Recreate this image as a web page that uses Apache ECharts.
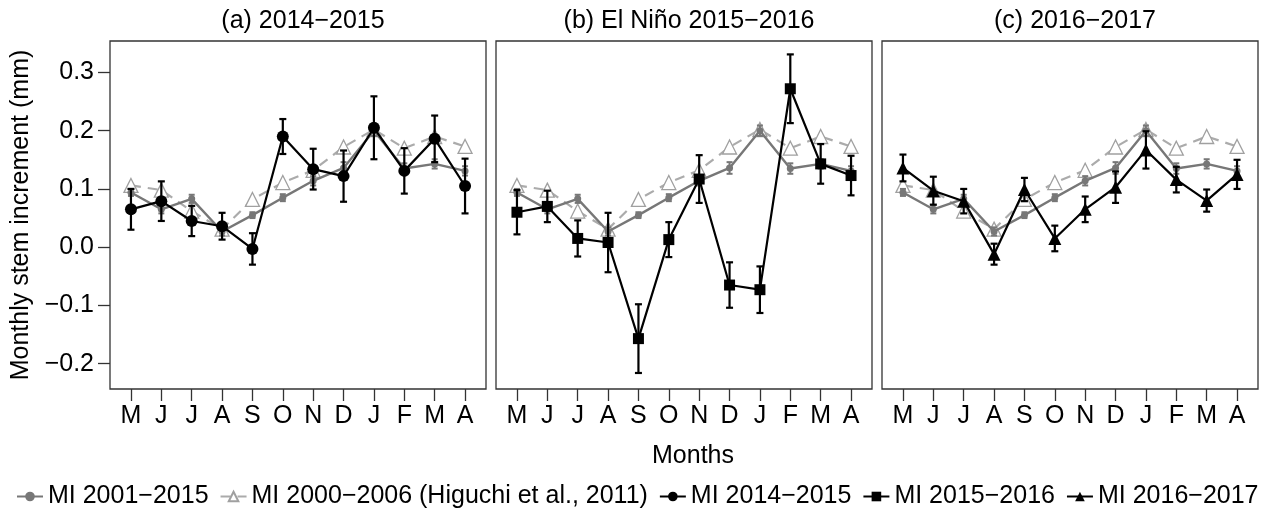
<!DOCTYPE html>
<html>
<head>
<meta charset="utf-8">
<script src="https://cdn.jsdelivr.net/npm/echarts@6/dist/echarts.min.js"></script>
<style>
  html, body { margin: 0; padding: 0; background: #fff; }
  #main { width: 1266px; height: 517px; }
</style>
</head>
<body>
<div id="main"></div>
<script>
// 月份 (May -> April)
var months = ['M', 'J', 'J', 'A', 'S', 'O', 'N', 'D', 'J', 'F', 'M', 'A'];
var yTicks = [-0.2, -0.1, 0, 0.1, 0.2, 0.3];

// MI 2001-2015 (mean +/- se)
var mi0115 = [0.094, 0.065, 0.083, 0.027, 0.055, 0.085, 0.114, 0.136, 0.200, 0.135, 0.143, 0.131];
var mi0115Err = [0.006, 0.007, 0.007, 0.007, 0.005, 0.006, 0.008, 0.010, 0.009, 0.009, 0.008, 0.008];
// Higuchi et al., 2011
var higuchi = [0.106, 0.098, 0.062, 0.031, 0.082, 0.111, 0.132, 0.172, 0.202, 0.170, 0.190, 0.173];
// MI 2014-2015
var mi1415 = [0.065, 0.079, 0.045, 0.036, -0.003, 0.190, 0.134, 0.122, 0.205, 0.131, 0.186, 0.105];
var mi1415Err = [0.035, 0.034, 0.026, 0.023, 0.027, 0.030, 0.035, 0.044, 0.054, 0.039, 0.040, 0.047];
// MI 2015-2016 (El Niño)
var mi1516 = [0.060, 0.070, 0.015, 0.008, -0.157, 0.013, 0.117, -0.065, -0.073, 0.272, 0.143, 0.123];
var mi1516Err = [0.038, 0.027, 0.031, 0.051, 0.059, 0.030, 0.041, 0.039, 0.040, 0.059, 0.034, 0.034];
// MI 2016-2017
var mi1617 = [0.136, 0.097, 0.079, -0.012, 0.099, 0.015, 0.065, 0.103, 0.167, 0.116, 0.080, 0.125];
var mi1617Err = [0.023, 0.024, 0.021, 0.018, 0.020, 0.022, 0.022, 0.027, 0.032, 0.022, 0.019, 0.025];

var names = ['MI 2001\u22122015', 'MI 2000\u22122006 (Higuchi et al., 2011)', 'MI 2014\u22122015', 'MI 2015\u22122016', 'MI 2016\u22122017'];
var FONT = 'Liberation Sans, Arial, sans-serif';
var FS = 25;

var myChart = echarts.init(document.getElementById('main'));

function pts(vals) {
    return vals.map(function (v, i) { return [i, v]; });
}
function errPts(vals, errs) {
    return vals.map(function (v, i) { return [i, v - errs[i], v + errs[i]]; });
}
// 误差棒
function errRender(capW, lw) {
    return function (params, api) {
        var x = api.value(0);
        var p1 = api.coord([x, api.value(1)]);
        var p2 = api.coord([x, api.value(2)]);
        var st = { stroke: api.visual('color'), lineWidth: lw };
        return {
            type: 'group',
            children: [
                { type: 'line', shape: { x1: p1[0], y1: p1[1], x2: p2[0], y2: p2[1] }, style: st },
                { type: 'line', shape: { x1: p1[0] - capW, y1: p1[1], x2: p1[0] + capW, y2: p1[1] }, style: st },
                { type: 'line', shape: { x1: p2[0] - capW, y1: p2[1], x2: p2[0] + capW, y2: p2[1] }, style: st }
            ]
        };
    };
}

var lefts = [110, 496, 882];
var grids = [], xAxes = [], yAxes = [], series = [];
var blackData = [
    { v: mi1415, e: mi1415Err, name: names[2], symbol: 'circle', size: 12 },
    { v: mi1516, e: mi1516Err, name: names[3], symbol: 'rect', size: 11 },
    { v: mi1617, e: mi1617Err, name: names[4], symbol: 'triangle', size: 13 }
];

for (var g = 0; g < 3; g++) {
    grids.push({ left: lefts[g], width: 376, top: 41, height: 348, show: true,
        borderColor: '#333', borderWidth: 1.3, backgroundColor: 'transparent' });
    xAxes.push({
        type: 'value', gridIndex: g, min: -0.69, max: 11.69, position: 'bottom',
        axisLine: { show: false, onZero: false }, splitLine: { show: false },
        axisTick: { show: true, length: 12, lineStyle: { color: '#333', width: 1.3 }, customValues: [0,1,2,3,4,5,6,7,8,9,10,11] },
        axisLabel: { show: true, margin: 15, color: '#000', fontSize: FS, fontFamily: FONT,
            customValues: [0,1,2,3,4,5,6,7,8,9,10,11],
            formatter: function (v) { return months[Math.round(v)]; } }
    });
    yAxes.push({
        type: 'value', gridIndex: g, min: -0.2435, max: 0.354, position: 'left',
        axisLine: { show: false, onZero: false }, splitLine: { show: false },
        axisTick: { show: g === 0, length: 12, lineStyle: { color: '#333', width: 1.3 }, customValues: yTicks },
        axisLabel: { show: g === 0, margin: 16, color: '#000', fontSize: FS, fontFamily: FONT,
            customValues: yTicks,
            formatter: function (v) { return (v < 0 ? '\u2212' : '') + Math.abs(v).toFixed(1); } },
        name: g === 0 ? 'Monthly stem increment (mm)' : '',
        nameLocation: 'middle', nameGap: 76, nameRotate: 90,
        nameTextStyle: { color: '#000', fontSize: FS, fontFamily: FONT }
    });

    // Higuchi et al. 2011 (dashed, hollow triangles)
    series.push({
        type: 'line', name: names[1], xAxisIndex: g, yAxisIndex: g, z: 2,
        data: pts(higuchi), symbol: 'triangle', symbolSize: 14,
        lineStyle: { color: '#ababab', width: 2.2, type: [10, 7] },
        itemStyle: { color: '#fff', borderColor: '#a0a0a0', borderWidth: 1.3 }
    });
    // MI 2001-2015
    series.push({
        type: 'custom', xAxisIndex: g, yAxisIndex: g, z: 3,
        renderItem: errRender(3, 2), itemStyle: { color: '#777' },
        data: errPts(mi0115, mi0115Err), encode: { x: 0, y: [1, 2] }
    });
    series.push({
        type: 'line', name: names[0], xAxisIndex: g, yAxisIndex: g, z: 3,
        data: pts(mi0115), symbol: 'circle', symbolSize: 7,
        lineStyle: { color: '#777', width: 2.4 }, itemStyle: { color: '#777' }
    });
    // 当年数据 (black)
    var b = blackData[g];
    series.push({
        type: 'custom', xAxisIndex: g, yAxisIndex: g, z: 4,
        renderItem: errRender(3.5, 2.2), itemStyle: { color: '#000' },
        data: errPts(b.v, b.e), encode: { x: 0, y: [1, 2] }
    });
    series.push({
        type: 'line', name: b.name, xAxisIndex: g, yAxisIndex: g, z: 5,
        data: pts(b.v), symbol: b.symbol, symbolSize: b.size,
        lineStyle: { color: '#000', width: 2.2 }, itemStyle: { color: '#000' }
    });
}

var ts = { color: '#000', fontSize: FS, fontWeight: 'normal', fontFamily: FONT };
myChart.setOption({
    animation: false,
    backgroundColor: '#fff',
    title: [
        { text: '(a) 2014\u22122015', left: 298, top: 4, textAlign: 'center', textStyle: ts },
        { text: '(b) El Ni\u00f1o 2015\u22122016', left: 684, top: 4, textAlign: 'center', textStyle: ts },
        { text: '(c) 2016\u22122017', left: 1070, top: 4, textAlign: 'center', textStyle: ts },
        { text: 'Months', left: 688, top: 439, textAlign: 'center', textStyle: ts }
    ],
    legend: {
        data: names, left: 16, top: 484, width: 1250, padding: 0,
        itemGap: 11, itemWidth: 26, itemHeight: 12,
        textStyle: { color: '#000', fontSize: FS, fontFamily: FONT, padding: [0, 0, 0, 0] }
    },
    grid: grids,
    xAxis: xAxes,
    yAxis: yAxes,
    series: series
});
</script>
</body>
</html>
